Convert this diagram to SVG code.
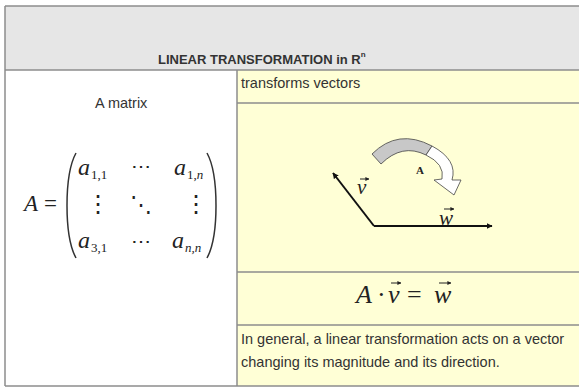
<svg xmlns="http://www.w3.org/2000/svg" width="579" height="388" viewBox="0 0 579 388">
<defs>
<style>
.sans{font-family:"Liberation Sans",Arial,sans-serif;fill:#333}
.serif{font-family:"Liberation Serif","Times New Roman",serif;fill:#222}
.it{font-style:italic}
.grid{stroke:#8c8c8c;stroke-width:1.5;fill:none}
.vec{stroke:#111;stroke-width:2;fill:none}
.acc{stroke:#222;stroke-width:1;fill:none}
.paren{stroke:#333;stroke-width:1.5;fill:none}
</style>
<marker id="ah" viewBox="0 0 10 10" refX="9" refY="5" markerWidth="6" markerHeight="6" orient="auto" markerUnits="userSpaceOnUse">
<path d="M0,0 L10,5 L0,10 Z" fill="#111"/>
</marker>
<marker id="ahs" viewBox="0 0 10 10" refX="9" refY="5" markerWidth="4" markerHeight="4" orient="auto" markerUnits="userSpaceOnUse">
<path d="M0,0 L10,5 L0,10 Z" fill="#222"/>
</marker>
</defs>
<rect width="579" height="388" fill="#ffffff"/>
<g id="header">
<rect x="5" y="6" width="574" height="64" fill="#e6e6e6"/>
<text class="sans" x="158" y="64" font-size="13" font-weight="bold">LINEAR TRANSFORMATION in R<tspan font-size="8" dy="-7">n</tspan></text>
</g>
<g id="matrix-cell">
<rect x="5" y="70" width="232" height="316" fill="#ffffff"/>
<text class="sans" x="95" y="108" font-size="14.5">A matrix</text>
<text class="serif it" x="24" y="211" font-size="23">A</text>
<text class="serif" x="44" y="211" font-size="23">=</text>
<path class="paren" d="M76,153 C64,175 64,236 76,258"/>
<path class="paren" d="M207,153 C219,175 219,236 207,258"/>
<text class="serif it" x="78" y="175" font-size="24">a</text>
<text class="serif" x="91" y="179" font-size="13">1,1</text>
<text class="serif" x="131" y="173" font-size="20">⋯</text>
<text class="serif it" x="174" y="175" font-size="24">a</text>
<text class="serif" x="187" y="179" font-size="13">1,<tspan font-style="italic">n</tspan></text>
<text class="serif" x="86" y="212" font-size="24">⋮</text>
<text class="serif" x="130" y="212" font-size="22">⋱</text>
<text class="serif" x="184" y="212" font-size="24">⋮</text>
<text class="serif it" x="78" y="248" font-size="24">a</text>
<text class="serif" x="91" y="252" font-size="13">3,1</text>
<text class="serif" x="131" y="248" font-size="20">⋯</text>
<text class="serif it" x="172" y="248" font-size="24">a</text>
<text class="serif it" x="185" y="252" font-size="13">n,n</text>
</g>
<g id="right-column">
<rect x="237" y="70" width="342" height="316" fill="#ffffd6"/>
<text class="sans" x="241" y="88" font-size="14.5">transforms vectors</text>
<text class="serif it" y="303" font-size="26"><tspan x="356">A</tspan><tspan x="377" font-style="normal">·</tspan><tspan x="388">v</tspan><tspan x="407" font-style="normal">=</tspan><tspan x="434">w</tspan></text>
<text class="sans" x="241" y="344" font-size="14.5">In general, a linear transformation acts on a vector</text>
<text class="sans" x="241" y="367" font-size="14.5">changing its magnitude and its direction.</text>
</g>
<g id="vector-diagram">
<path d="M372,154 Q398,128 432,146 L426,155 Q402,143 381,164 Z" fill="#c8c8c8" stroke="#444" stroke-width="0.8"/>
<path d="M426,155 L432,146 Q458,160 452,180 L461,180 L454,195 L434,180 L442,179 Q445,164 426,155 Z" fill="#ffffff" stroke="#444" stroke-width="0.8"/>
<text class="serif" x="416" y="174" font-size="11" font-weight="bold">A</text>
<text class="serif it" x="357" y="194" font-size="21">v</text>
<text class="serif it" x="439" y="225" font-size="21">w</text>
</g>
<g id="connectors">
<line class="vec" x1="374" y1="226" x2="333" y2="173" marker-end="url(#ah)"/>
<line class="vec" x1="374" y1="226" x2="492" y2="226" marker-end="url(#ah)"/>
<line class="acc" x1="360" y1="179" x2="369" y2="179" marker-end="url(#ahs)"/>
<line class="acc" x1="444" y1="209" x2="454" y2="209" marker-end="url(#ahs)"/>
<line class="acc" x1="391" y1="283" x2="401" y2="283" marker-end="url(#ahs)"/>
<line class="acc" x1="439" y1="283" x2="451" y2="283" marker-end="url(#ahs)"/>
</g>
<g id="grid-lines">
<line class="grid" x1="5" y1="6" x2="579" y2="6"/>
<line class="grid" x1="5" y1="6" x2="5" y2="386"/>
<line class="grid" x1="5" y1="70" x2="579" y2="70"/>
<line class="grid" x1="237" y1="70" x2="237" y2="386"/>
<line class="grid" x1="237" y1="103" x2="579" y2="103"/>
<line class="grid" x1="237" y1="272" x2="579" y2="272"/>
<line class="grid" x1="237" y1="325" x2="579" y2="325"/>
<line class="grid" x1="5" y1="386" x2="579" y2="386"/>
</g>
</svg>
